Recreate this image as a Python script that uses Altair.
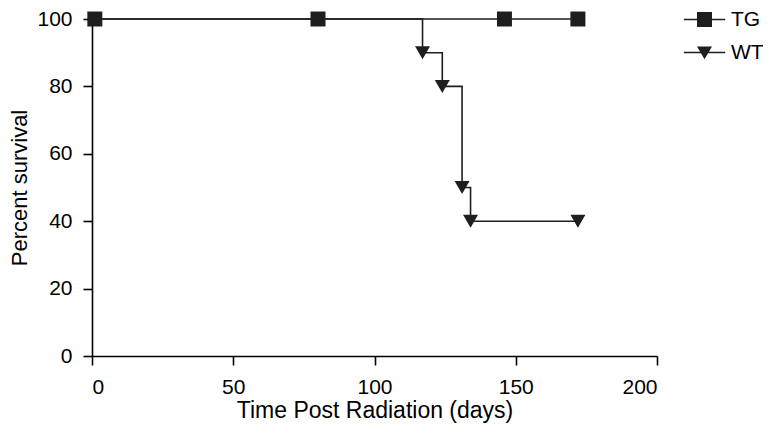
import altair as alt
import pandas as pd

# TG group
tg_days = [1, 80, 146, 172]
tg_surv = [100, 100, 100, 100]
# WT group (step curve)
wt_line_days = [0, 117, 124, 131, 134, 172]
wt_line_surv = [100, 90, 80, 50, 40, 40]
wt_mark_days = [117, 124, 131, 134, 172]
wt_mark_surv = [90, 80, 50, 40, 40]

groups = ["TG", "WT"]

line_df = pd.DataFrame(
    {"day": [0] + tg_days, "surv": [100] + tg_surv, "group": "TG"}
)
line_df = pd.concat(
    [line_df, pd.DataFrame({"day": wt_line_days, "surv": wt_line_surv, "group": "WT"})]
)
mark_df = pd.concat([
    pd.DataFrame({"day": tg_days, "surv": tg_surv, "group": "TG"}),
    pd.DataFrame({"day": wt_mark_days, "surv": wt_mark_surv, "group": "WT"}),
])

INK = "#1e1e1e"
FONT = "Liberation Sans"

x = alt.X("day:Q", scale=alt.Scale(domain=[0, 200], nice=False),
          axis=alt.Axis(values=[0, 50, 100, 150, 200], title="Time Post Radiation (days)"))
y = alt.Y("surv:Q", scale=alt.Scale(domain=[0, 100], nice=False),
          axis=alt.Axis(values=[0, 20, 40, 60, 80, 100], title="Percent survival"))

lines = alt.Chart(line_df).mark_line(interpolate="step-after", color=INK, strokeWidth=1.6).encode(
    x=x, y=y, detail="group:N"
)

points = alt.Chart(mark_df).mark_point(filled=True, color=INK, opacity=1, size=225).encode(
    x=x, y=y,
    shape=alt.Shape("group:N", scale=alt.Scale(domain=groups, range=["square", "triangle-down"]),
                    legend=None)
)

# legend-only layer (no marks drawn): symbols are a line (thin filled bar) + marker
sq = "M-2.75,-0.1H2.75V0.1H-2.75Z M-1,-1H1V1H-1Z"
tri = "M-2.75,-0.1H2.75V0.1H-2.75Z M-1,-0.8H1L0,0.9Z"
legend_layer = alt.Chart(mark_df).transform_filter("datum.day < 0").mark_point(
    filled=True, color=INK, opacity=1, size=225
).encode(
    x=x, y=y,
    shape=alt.Shape("group:N", scale=alt.Scale(domain=groups, range=[sq, tri]),
                    legend=alt.Legend(
                        title=None, orient="none", legendX=602, legendY=-10,
                        symbolSize=225, labelFontSize=21, labelFont=FONT, labelColor="#000",
                        labelOffset=16, rowPadding=11, symbolFillColor=INK,
                        symbolOpacity=1,
                    ))
)

chart = (lines + points + legend_layer).resolve_scale(shape="independent").properties(
    width=565, height=337,
    autosize=alt.AutoSizeParams(type="none"),
    padding={"left": 84, "top": 11, "right": 106, "bottom": 71},
).configure_view(stroke=None).configure_axis(
    domainColor="#000", tickColor="#000", domainWidth=1.6, tickWidth=1.6, tickSize=9,
    grid=False, labelFont=FONT, titleFont=FONT, labelFontSize=21, titleFontSize=22,
    labelColor="#000", titleColor="#000", titleFontWeight="normal",
).configure_axisX(labelPadding=11, titlePadding=2, titleFontSize=23).configure_axisY(labelPadding=11, titlePadding=5)

chart.save("out.html", embed_options={"renderer": "svg", "actions": False})
